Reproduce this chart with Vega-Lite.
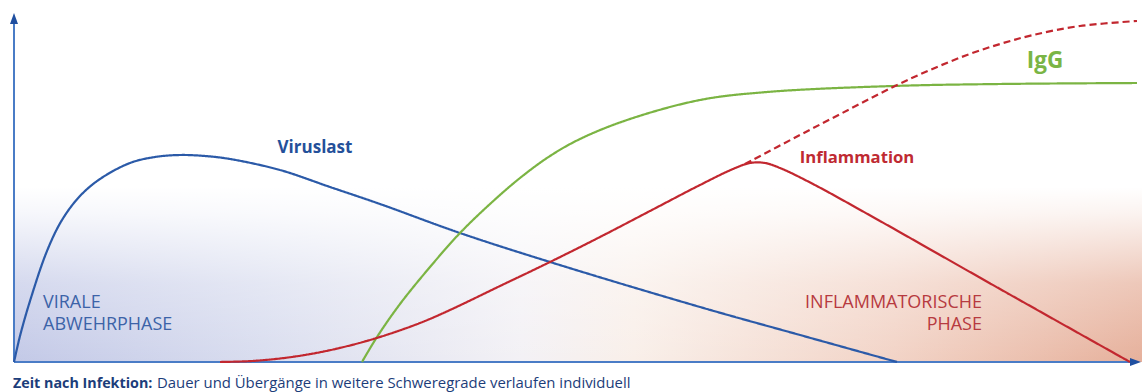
{
  "$schema": "https://vega.github.io/schema/vega-lite/v6.json",
  "autosize": {"type": "none"},
  "width": 1142,
  "height": 392,
  "padding": 0,
  "background": "white",
  "config": {"view": {"stroke": null}},
  "datasets": {
    "bg": [{"x0": 14, "x1": 1142, "y0": 30, "y1": 205}],
    "curves": [
      {"series": "Viruslast", "t": 14, "v": 30},
      {"series": "Viruslast", "t": 20, "v": 56},
      {"series": "Viruslast", "t": 30, "v": 91},
      {"series": "Viruslast", "t": 47, "v": 141},
      {"series": "Viruslast", "t": 62, "v": 172},
      {"series": "Viruslast", "t": 80, "v": 196},
      {"series": "Viruslast", "t": 100, "v": 213},
      {"series": "Viruslast", "t": 130, "v": 229},
      {"series": "Viruslast", "t": 155, "v": 235},
      {"series": "Viruslast", "t": 180, "v": 237},
      {"series": "Viruslast", "t": 205, "v": 236},
      {"series": "Viruslast", "t": 230, "v": 233},
      {"series": "Viruslast", "t": 280, "v": 222},
      {"series": "Viruslast", "t": 330, "v": 205},
      {"series": "Viruslast", "t": 380, "v": 188},
      {"series": "Viruslast", "t": 460, "v": 159},
      {"series": "Viruslast", "t": 550, "v": 130},
      {"series": "Viruslast", "t": 700, "v": 85},
      {"series": "Viruslast", "t": 800, "v": 57},
      {"series": "Viruslast", "t": 897, "v": 30},
      {"series": "IgG", "t": 362, "v": 30},
      {"series": "IgG", "t": 377, "v": 55},
      {"series": "IgG", "t": 400, "v": 88},
      {"series": "IgG", "t": 430, "v": 125},
      {"series": "IgG", "t": 460, "v": 159},
      {"series": "IgG", "t": 490, "v": 188},
      {"series": "IgG", "t": 520, "v": 214},
      {"series": "IgG", "t": 550, "v": 236},
      {"series": "IgG", "t": 580, "v": 253},
      {"series": "IgG", "t": 627, "v": 272},
      {"series": "IgG", "t": 700, "v": 292},
      {"series": "IgG", "t": 767, "v": 300},
      {"series": "IgG", "t": 893, "v": 306},
      {"series": "IgG", "t": 1000, "v": 308},
      {"series": "IgG", "t": 1137, "v": 309},
      {"series": "Inflammation", "t": 220, "v": 30},
      {"series": "Inflammation", "t": 250, "v": 30.9},
      {"series": "Inflammation", "t": 280, "v": 33.5},
      {"series": "Inflammation", "t": 310, "v": 37.9},
      {"series": "Inflammation", "t": 340, "v": 44.1},
      {"series": "Inflammation", "t": 377, "v": 54.1},
      {"series": "Inflammation", "t": 420, "v": 69},
      {"series": "Inflammation", "t": 450, "v": 82},
      {"series": "Inflammation", "t": 500, "v": 106},
      {"series": "Inflammation", "t": 550, "v": 130},
      {"series": "Inflammation", "t": 600, "v": 155},
      {"series": "Inflammation", "t": 650, "v": 181},
      {"series": "Inflammation", "t": 700, "v": 207},
      {"series": "Inflammation", "t": 733, "v": 223},
      {"series": "Inflammation", "t": 750, "v": 229},
      {"series": "Inflammation", "t": 765, "v": 229},
      {"series": "Inflammation", "t": 780, "v": 224},
      {"series": "Inflammation", "t": 813, "v": 208},
      {"series": "Inflammation", "t": 880, "v": 171},
      {"series": "Inflammation", "t": 1000, "v": 103},
      {"series": "Inflammation", "t": 1130, "v": 30},
      {"series": "Inflammation (Verlauf)", "t": 745, "v": 228},
      {"series": "Inflammation (Verlauf)", "t": 800, "v": 257},
      {"series": "Inflammation (Verlauf)", "t": 850, "v": 283},
      {"series": "Inflammation (Verlauf)", "t": 893, "v": 305},
      {"series": "Inflammation (Verlauf)", "t": 930, "v": 322},
      {"series": "Inflammation (Verlauf)", "t": 967, "v": 337},
      {"series": "Inflammation (Verlauf)", "t": 1000, "v": 348},
      {"series": "Inflammation (Verlauf)", "t": 1033, "v": 357},
      {"series": "Inflammation (Verlauf)", "t": 1080, "v": 366},
      {"series": "Inflammation (Verlauf)", "t": 1137, "v": 371}
    ]
  },
  "layer": [
    {
      "data": {"name": "bg"},
      "mark": {
        "type": "rect",
        "fill": {
          "gradient": "linear", "x1": 0, "y1": 0, "x2": 1, "y2": 0,
          "stops": [
            {"offset": 0, "color": "#c3c9e7"},
            {"offset": 0.22, "color": "#d9ddef"},
            {"offset": 0.45, "color": "#f3f1f5"},
            {"offset": 0.55, "color": "#f9efe9"},
            {"offset": 0.78, "color": "#f2d3c6"},
            {"offset": 1, "color": "#e6b09b"}
          ]
        }
      },
      "encoding": {
        "x": {"field": "x0", "type": "quantitative", "scale": {"domain": [0, 1142], "nice": false, "zero": false}, "axis": null},
        "x2": {"field": "x1"},
        "y": {"field": "y0", "type": "quantitative", "scale": {"domain": [0, 392], "nice": false, "zero": false}, "axis": null},
        "y2": {"field": "y1"}
      }
    },
    {
      "data": {"name": "bg"},
      "mark": {
        "type": "rect",
        "fill": {
          "gradient": "linear", "x1": 0, "y1": 0, "x2": 0, "y2": 1,
          "stops": [
            {"offset": 0, "color": "rgba(255,255,255,1)"},
            {"offset": 0.15, "color": "rgba(255,255,255,0.85)"},
            {"offset": 0.55, "color": "rgba(255,255,255,0.3)"},
            {"offset": 1, "color": "rgba(255,255,255,0)"}
          ]
        }
      },
      "encoding": {
        "x": {"field": "x0", "type": "quantitative", "scale": {"domain": [0, 1142], "nice": false, "zero": false}, "axis": null},
        "x2": {"field": "x1"},
        "y": {"field": "y0", "type": "quantitative", "scale": {"domain": [0, 392], "nice": false, "zero": false}, "axis": null},
        "y2": {"field": "y1"}
      }
    },
    {
      "data": {"values": [{"a": 14, "b": 30, "c": 372}]},
      "mark": {"type": "rule", "color": "#4a7cc6", "strokeWidth": 2},
      "encoding": {
        "x": {"field": "a", "type": "quantitative", "scale": {"domain": [0, 1142], "nice": false, "zero": false}, "axis": null},
        "y": {"field": "b", "type": "quantitative", "scale": {"domain": [0, 392], "nice": false, "zero": false}, "axis": null},
        "y2": {"field": "c"}
      }
    },
    {
      "data": {"values": [{"a": 14, "b": 30, "c": 1132}]},
      "mark": {"type": "rule", "color": "#4a7cc6", "strokeWidth": 2},
      "encoding": {
        "x": {"field": "a", "type": "quantitative", "scale": {"domain": [0, 1142], "nice": false, "zero": false}, "axis": null},
        "x2": {"field": "c"},
        "y": {"field": "b", "type": "quantitative", "scale": {"domain": [0, 392], "nice": false, "zero": false}, "axis": null}
      }
    },
    {
      "data": {"name": "curves"},
      "mark": {"type": "line", "interpolate": "catmull-rom", "strokeWidth": 2.2},
      "encoding": {
        "x": {"field": "t", "type": "quantitative", "scale": {"domain": [0, 1142], "nice": false, "zero": false}, "axis": null},
        "y": {"field": "v", "type": "quantitative", "scale": {"domain": [0, 392], "nice": false, "zero": false}, "axis": null},
        "color": {
          "field": "series", "type": "nominal", "legend": null,
          "scale": {"domain": ["Viruslast", "IgG", "Inflammation", "Inflammation (Verlauf)"], "range": ["#2b5aa8", "#7bb443", "#c2272f", "#c2272f"]}
        },
        "strokeDash": {
          "field": "series", "type": "nominal", "legend": null,
          "scale": {"domain": ["Viruslast", "IgG", "Inflammation", "Inflammation (Verlauf)"], "range": [[1, 0], [1, 0], [1, 0], [7, 4]]}
        }
      }
    },
    {
      "data": {"values": [{"a": 14, "b": 373}]},
      "mark": {"type": "point", "shape": "M0,-1.2L0.8,1L-0.8,1Z", "size": 100, "filled": true, "opacity": 1, "color": "#1f4fa0"},
      "encoding": {
        "x": {"field": "a", "type": "quantitative", "scale": {"domain": [0, 1142], "nice": false, "zero": false}, "axis": null},
        "y": {"field": "b", "type": "quantitative", "scale": {"domain": [0, 392], "nice": false, "zero": false}, "axis": null}
      }
    },
    {
      "data": {"values": [{"a": 1135, "b": 30}]},
      "mark": {"type": "point", "shape": "M1.2,0L-1,0.8L-1,-0.8Z", "size": 100, "filled": true, "opacity": 1, "color": "#1f4fa0"},
      "encoding": {
        "x": {"field": "a", "type": "quantitative", "scale": {"domain": [0, 1142], "nice": false, "zero": false}, "axis": null},
        "y": {"field": "b", "type": "quantitative", "scale": {"domain": [0, 392], "nice": false, "zero": false}, "axis": null}
      }
    },
    {
      "data": {"values": [{"label": "Viruslast", "t": 315, "v": 244}]},
      "mark": {"type": "text", "font": "Open Sans", "fontWeight": "bold", "fontSize": 17, "color": "#24509a", "align": "center", "baseline": "middle"},
      "encoding": {
        "x": {"field": "t", "type": "quantitative", "scale": {"domain": [0, 1142], "nice": false, "zero": false}, "axis": null},
        "y": {"field": "v", "type": "quantitative", "scale": {"domain": [0, 392], "nice": false, "zero": false}, "axis": null},
        "text": {"field": "label"}
      }
    },
    {
      "data": {"values": [{"label": "IgG", "t": 1045, "v": 331}]},
      "mark": {"type": "text", "font": "Open Sans", "fontWeight": "bold", "fontSize": 22.5, "color": "#7ab545", "align": "center", "baseline": "middle"},
      "encoding": {
        "x": {"field": "t", "type": "quantitative", "scale": {"domain": [0, 1142], "nice": false, "zero": false}, "axis": null},
        "y": {"field": "v", "type": "quantitative", "scale": {"domain": [0, 392], "nice": false, "zero": false}, "axis": null},
        "text": {"field": "label"}
      }
    },
    {
      "data": {"values": [{"label": "Inflammation", "t": 857, "v": 234}]},
      "mark": {"type": "text", "font": "Open Sans", "fontWeight": "bold", "fontSize": 16.7, "color": "#bf2a32", "align": "center", "baseline": "middle"},
      "encoding": {
        "x": {"field": "t", "type": "quantitative", "scale": {"domain": [0, 1142], "nice": false, "zero": false}, "axis": null},
        "y": {"field": "v", "type": "quantitative", "scale": {"domain": [0, 392], "nice": false, "zero": false}, "axis": null},
        "text": {"field": "label"}
      }
    },
    {
      "data": {"values": [{"label": "VIRALE\nABWEHRPHASE", "t": 43, "v": 84.5}]},
      "mark": {"type": "text", "font": "Open Sans", "fontSize": 18, "lineBreak": "\n", "lineHeight": 22.5, "color": "#3c63a8", "align": "left", "baseline": "alphabetic"},
      "encoding": {
        "x": {"field": "t", "type": "quantitative", "scale": {"domain": [0, 1142], "nice": false, "zero": false}, "axis": null},
        "y": {"field": "v", "type": "quantitative", "scale": {"domain": [0, 392], "nice": false, "zero": false}, "axis": null},
        "text": {"field": "label"}
      }
    },
    {
      "data": {"values": [{"label": "INFLAMMATORISCHE\nPHASE", "t": 982, "v": 84.5}]},
      "mark": {"type": "text", "font": "Open Sans", "fontSize": 18, "lineBreak": "\n", "lineHeight": 22.5, "color": "#b73a40", "align": "right", "baseline": "alphabetic"},
      "encoding": {
        "x": {"field": "t", "type": "quantitative", "scale": {"domain": [0, 1142], "nice": false, "zero": false}, "axis": null},
        "y": {"field": "v", "type": "quantitative", "scale": {"domain": [0, 392], "nice": false, "zero": false}, "axis": null},
        "text": {"field": "label"}
      }
    },
    {
      "data": {"values": [{"label": "Zeit nach Infektion:", "t": 13, "v": 4}]},
      "mark": {"type": "text", "font": "Open Sans", "fontWeight": "bold", "fontSize": 14.3, "color": "#1c3d7a", "align": "left", "baseline": "alphabetic"},
      "encoding": {
        "x": {"field": "t", "type": "quantitative", "scale": {"domain": [0, 1142], "nice": false, "zero": false}, "axis": null},
        "y": {"field": "v", "type": "quantitative", "scale": {"domain": [0, 392], "nice": false, "zero": false}, "axis": null},
        "text": {"field": "label"}
      }
    },
    {
      "data": {"values": [{"label": "Dauer und Übergänge in weitere Schweregrade verlaufen individuell", "t": 157, "v": 4}]},
      "mark": {"type": "text", "font": "Open Sans", "fontSize": 14.9, "color": "#1c3d7a", "align": "left", "baseline": "alphabetic"},
      "encoding": {
        "x": {"field": "t", "type": "quantitative", "scale": {"domain": [0, 1142], "nice": false, "zero": false}, "axis": null},
        "y": {"field": "v", "type": "quantitative", "scale": {"domain": [0, 392], "nice": false, "zero": false}, "axis": null},
        "text": {"field": "label"}
      }
    }
  ]
}
